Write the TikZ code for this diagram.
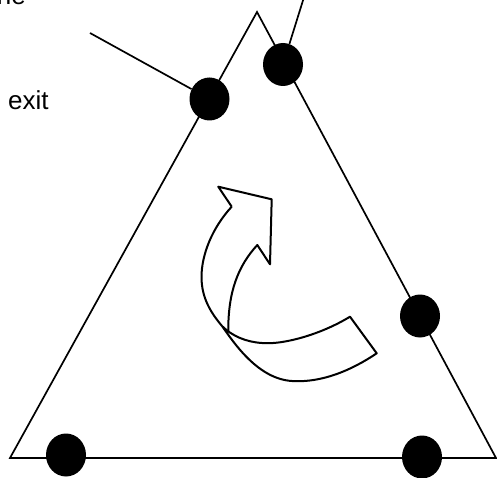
\documentclass[tikz,border=0pt]{standalone}
\usepackage{fontspec}
\setmainfont{Liberation Sans}
\usetikzlibrary{shapes.geometric}
\begin{document}
\begin{tikzpicture}[x=1pt,y=-1pt,
  dot/.style={ellipse,fill=black,inner sep=0pt,minimum width=40pt,minimum height=43pt},
  edge/.style={line width=1.7pt},
  outline/.style={line width=2pt,line join=round},
  lbl/.style={inner sep=0pt,font=\fontsize{26}{30}\selectfont}]
\useasboundingbox (0,0) rectangle (497,478);
% triangle corners
\coordinate (apex) at (257,12);
\coordinate (bl) at (10,458);
\coordinate (br) at (496,458);
\draw[edge,line join=miter] (apex) -- (bl) -- (br) -- cycle;
% dots
\node[dot] (dtop) at (283,64.5) {};
\node[dot] (dleft) at (209.5,99) {};
\node[dot] (dright) at (420,316) {};
\node[dot] (dbl) at (66,455) {};
\node[dot] (dbr) at (422,457) {};
% connectors
\coordinate (lend) at (90,33);
\coordinate (tend) at (305,-6);
\draw[edge] (dleft) -- (lend);
\draw[edge] (dtop) -- (tend);
% labels
\node[lbl,anchor=base west] (exit) at (8,110) {exit};
\node[lbl,anchor=base east] (ne) at (26,5) {ne};
% curved arrow
\draw[outline] (231.7,206.7) -- (218.3,186.7) -- (271.7,199.3) -- (270,264.3) -- (257.3,245)
  .. controls (238,266) and (228,292) .. (228.3,331);
\draw[outline] (231.7,206.7) .. controls (212,228) and (201.5,255) .. (201.5,277)
  .. controls (201.5,298) and (211,313) .. (222,326)
  .. controls (234,343) and (258,379) .. (292,381)
  .. controls (322,383) and (352,370) .. (376.7,353.3) -- (350,316.7)
  .. controls (320,335) and (282,345) .. (262,343)
  .. controls (246,342) and (232,336) .. (222,326);
\end{tikzpicture}
\end{document}
